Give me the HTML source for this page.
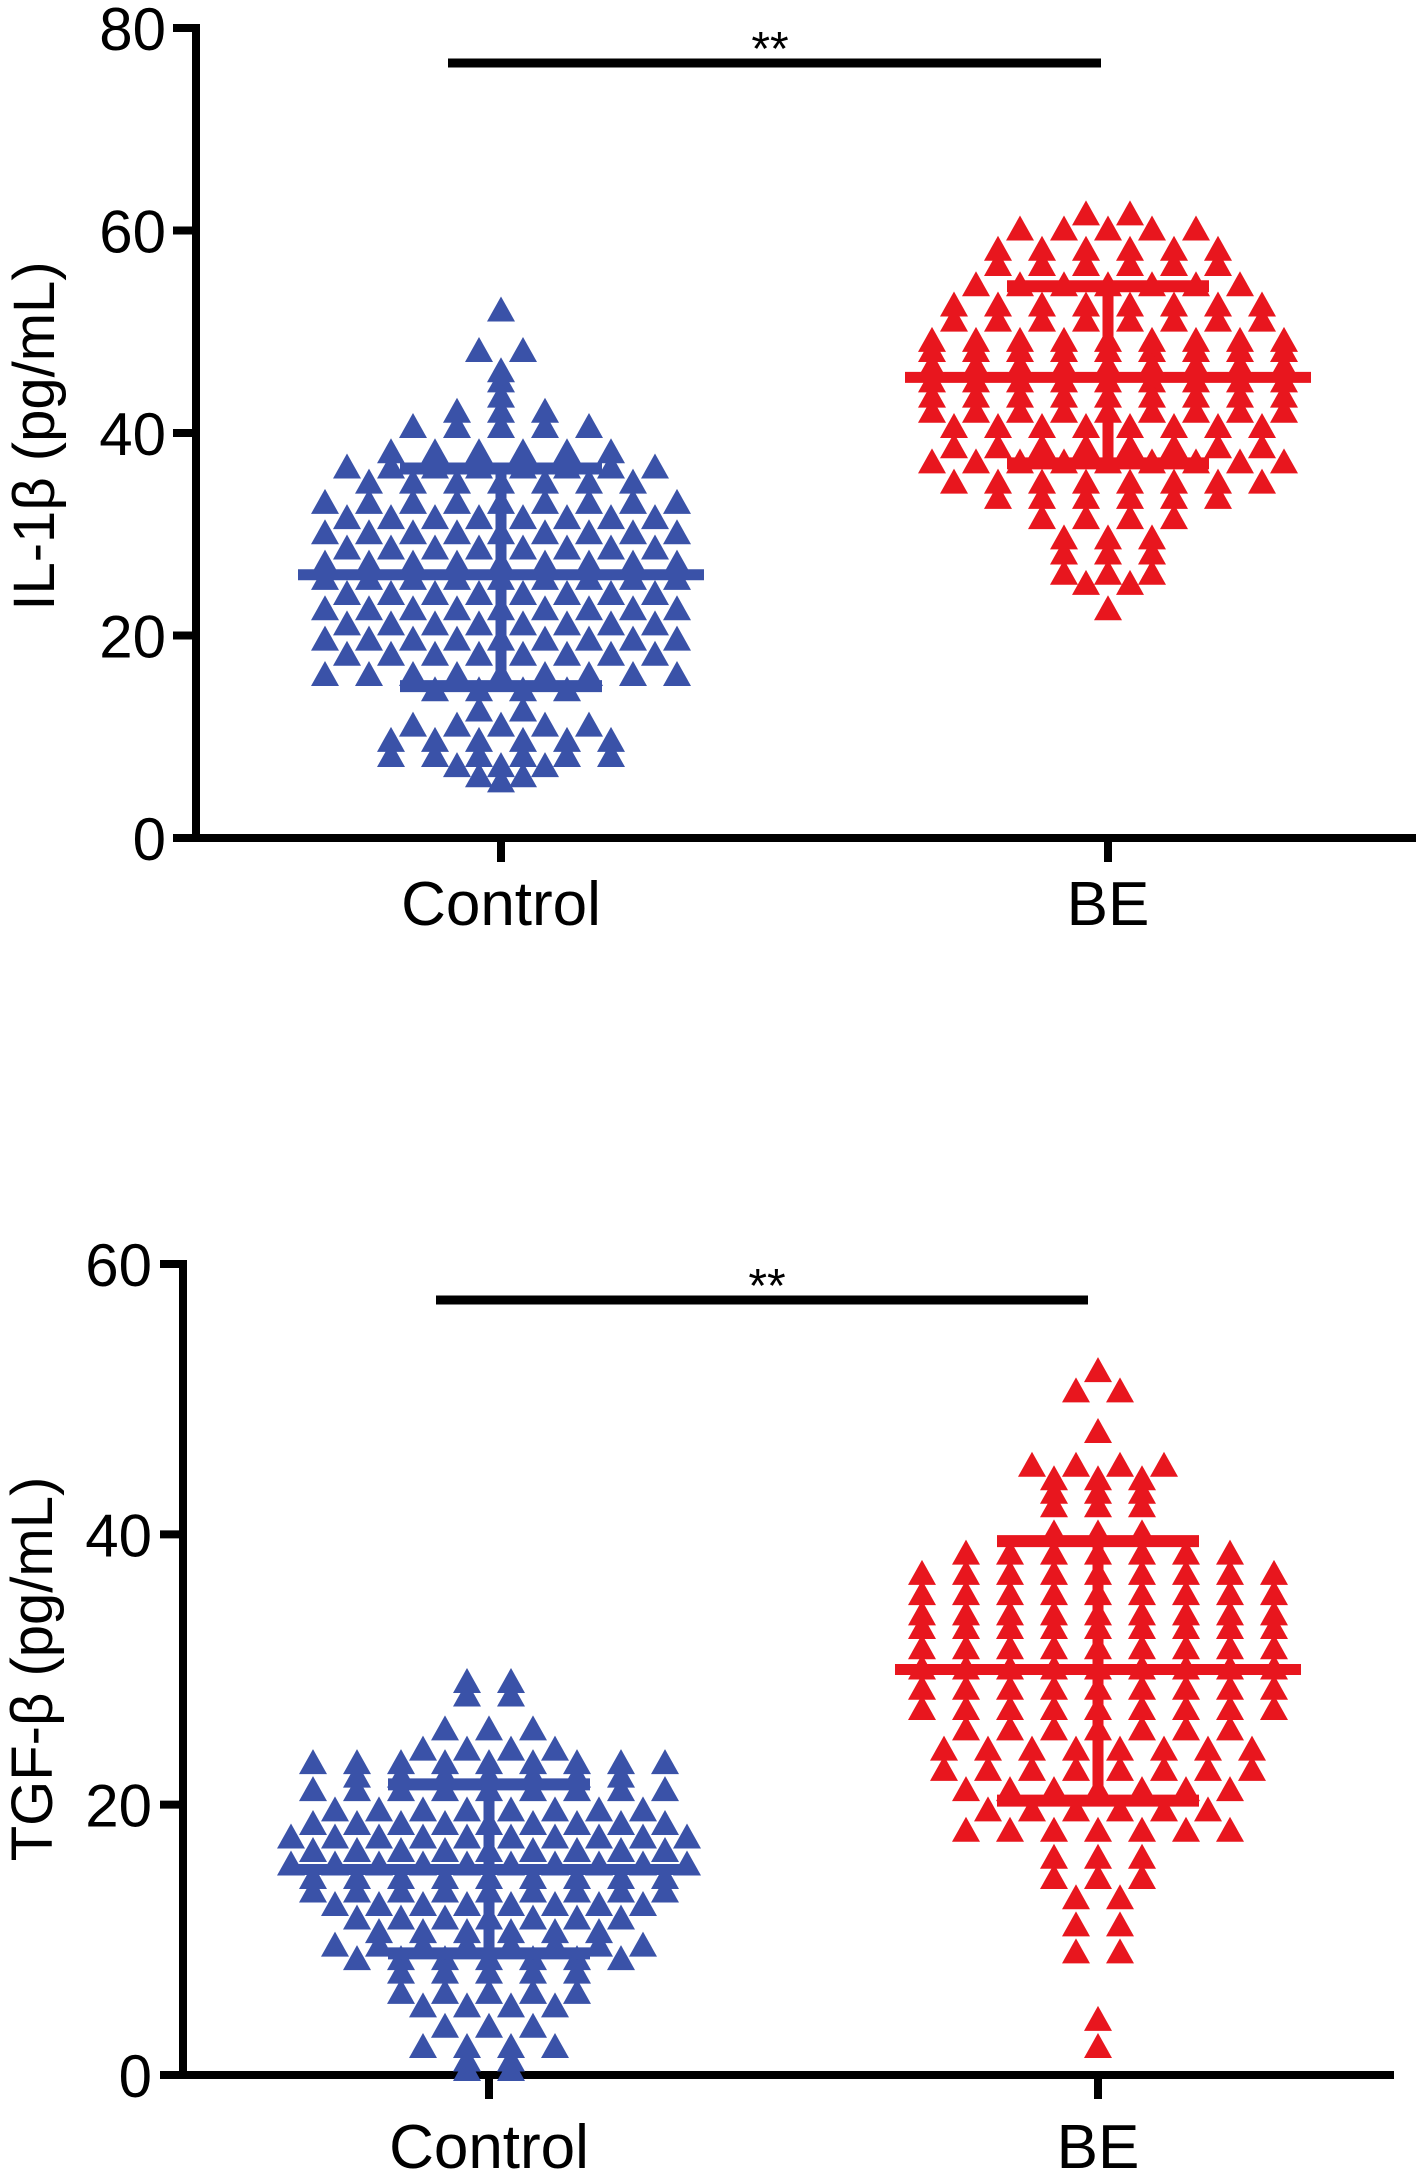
<!DOCTYPE html>
<html><head><meta charset="utf-8">
<style>
html,body{margin:0;padding:0;background:#fff;}
svg{display:block;font-family:"Liberation Sans",Arial,sans-serif;}
</style></head>
<body>
<svg id="fig" width="1423" height="2171" viewBox="0 0 1423 2171" xmlns="http://www.w3.org/2000/svg"></svg>
<script>
// ---------- data: top chart (IL-1β) ----------
const topCategories = ["Control", "BE"];
const topYTicks = [0, 20, 40, 60, 80];
const topControlValues = [52,48,48,46,45,43.5,42,42,42,40.5,40.5,40.5,40.5,40.5,
38,38,38,38,38,38,36.5,36.5,36.5,36.5,36.5,36.5,36.5,36.5,35,35,35,35,35,35,35,
33,33,33,33,33,33,33,33,33,31.5,31.5,31.5,31.5,31.5,31.5,31.5,31.5,30,30,30,30,30,30,30,30,30,
28.5,28.5,28.5,28.5,28.5,28.5,28.5,28.5,27,27,27,27,27,27,27,27,27,25.5,25.5,25.5,25.5,25.5,25.5,25.5,25.5,25.5,
24,24,24,24,24,24,24,24,22.5,22.5,22.5,22.5,22.5,22.5,22.5,22.5,22.5,21,21,21,21,21,21,21,21,
19.5,19.5,19.5,19.5,19.5,19.5,19.5,19.5,19.5,18,18,18,18,18,18,18,18,16,16,16,16,16,16,16,16,16,
14.5,14.5,14.5,14.5,12.5,12.5,11,11,11,11,11,9.5,9.5,9.5,9.5,9.5,9.5,8,8,8,8,8,8,7,7,7,6,6,5.5];
const topBEValues = [61.5,61.5,60,60,60,60,60,58,58,58,58,58,58,56.5,56.5,56.5,56.5,56.5,56.5,
54.5,54.5,54.5,54.5,54.5,54.5,54.5,52.5,52.5,52.5,52.5,52.5,52.5,52.5,52.5,51,51,51,51,51,51,51,51,
49,49,49,49,49,49,49,49,49,48,48,48,48,48,48,48,48,48,46.5,46.5,46.5,46.5,46.5,46.5,46.5,46.5,46.5,
45,45,45,45,45,45,45,45,45,43.5,43.5,43.5,43.5,43.5,43.5,43.5,43.5,43.5,42,42,42,42,42,42,42,42,42,
40.5,40.5,40.5,40.5,40.5,40.5,40.5,40.5,38.5,38.5,38.5,38.5,38.5,38.5,38.5,38.5,37,37,37,37,37,37,37,37,37,
35,35,35,35,35,35,35,35,33.5,33.5,33.5,33.5,33.5,33.5,31.5,31.5,31.5,31.5,29.5,29.5,29.5,28,28,28,26,26,26,25,25,22.5];
const topMeans = [26, 45.5];
const topSDHigh = [36.5, 54.5];
const topSDLow = [15, 37];

// ---------- data: bottom chart (TGF-β) ----------
const botCategories = ["Control", "BE"];
const botYTicks = [0, 20, 40, 60];
const botControlValues = [29,29,28,28,25.5,25.5,25.5,24,24,24,24,23,23,23,23,23,23,23,23,23,
22,22,22,22,22,22,22,21,21,21,21,21,21,21,21,21,19.5,19.5,19.5,19.5,19.5,19.5,19.5,19.5,
18.5,18.5,18.5,18.5,18.5,18.5,18.5,18.5,18.5,17.5,17.5,17.5,17.5,17.5,17.5,17.5,17.5,17.5,17.5,
16.5,16.5,16.5,16.5,16.5,16.5,16.5,16.5,16.5,15.5,15.5,15.5,15.5,15.5,15.5,15.5,15.5,15.5,15.5,
14.5,14.5,14.5,14.5,14.5,14.5,14.5,14.5,14.5,13.5,13.5,13.5,13.5,13.5,13.5,13.5,13.5,13.5,
12.5,12.5,12.5,12.5,12.5,12.5,12.5,12.5,11.5,11.5,11.5,11.5,11.5,11.5,11.5,10.5,10.5,10.5,10.5,10.5,10.5,
9.5,9.5,9.5,9.5,9.5,9.5,9.5,9.5,8.5,8.5,8.5,8.5,8.5,8.5,8.5,7.5,7.5,7.5,7.5,7.5,
6,6,6,6,6,5,5,5,5,3.5,3.5,3.5,2,2,2,2,1,1,0.3,0.3];
const botBEValues = [52,50.5,50.5,47.5,45,45,45,45,44,44,44,43,43,43,42,42,42,40,40,40,
38.5,38.5,38.5,38.5,38.5,38.5,38.5,37,37,37,37,37,37,37,37,37,35.5,35.5,35.5,35.5,35.5,35.5,35.5,35.5,35.5,
34,34,34,34,34,34,34,34,34,33,33,33,33,33,33,33,33,33,31.5,31.5,31.5,31.5,31.5,31.5,31.5,31.5,31.5,
30,30,30,30,30,30,30,30,30,28.5,28.5,28.5,28.5,28.5,28.5,28.5,28.5,28.5,27,27,27,27,27,27,27,27,27,
25.5,25.5,25.5,25.5,25.5,25.5,25.5,24,24,24,24,24,24,24,24,22.5,22.5,22.5,22.5,22.5,22.5,22.5,22.5,
21,21,21,21,21,21,21,19.5,19.5,19.5,19.5,19.5,19.5,18,18,18,18,18,18,18,
16,16,16,14.5,14.5,14.5,13,13,11,11,9,9,4,2];
const botMeans = [15.2, 30];
const botSDHigh = [21.5, 39.5];
const botSDLow = [9, 20.3];

const NS = "http://www.w3.org/2000/svg";
const svg = document.getElementById('fig');
const BLUE = "#3a52a8", RED = "#e8161e";

function mk(tag, attrs, parent) {
  const e = document.createElementNS(NS, tag);
  for (const k in attrs) e.setAttribute(k, attrs[k]);
  (parent || svg).appendChild(e);
  return e;
}

function drawChart(cfg) {
  const g = mk('g', {});
  
  
  const yMax = cfg.ticks[cfg.ticks.length - 1];
  const yScale = v => cfg.y0 + (cfg.yTop - cfg.y0) * v / yMax;
  const xScale = i => cfg.catX[i];

  const ya = mk('line', {x1: cfg.axX, y1: cfg.yTop - 4, x2: cfg.axX, y2: cfg.y0 + 4, stroke: '#000', 'stroke-width': 8}, g);
  
  
  const xa = mk('line', {x1: cfg.axX - 22, y1: cfg.y0, x2: cfg.xEnd, y2: cfg.y0, stroke: '#000', 'stroke-width': 8}, g);
  
  

  cfg.ticks.forEach(t => {
    const y = yScale(t);
    const tk = mk('line', {x1: cfg.axX - 23, y1: y, x2: cfg.axX, y2: y, stroke: '#000', 'stroke-width': 8}, g);
    
    
    const tx = mk('text', {x: cfg.labelRight, y: y + 22, 'text-anchor': 'end', 'font-size': 60, fill: '#000'}, g);
    tx.textContent = t;
    
    
  });

  cfg.cats.forEach((c, i) => {
    const x = xScale(i);
    const tk = mk('line', {x1: x, y1: cfg.y0, x2: x, y2: cfg.y0 + 24, stroke: '#000', 'stroke-width': 8}, g);
    
    
    const tx = mk('text', {x: x, y: cfg.catBase, 'text-anchor': 'middle', 'font-size': 62, fill: '#000'}, g);
    tx.textContent = c;
    
    
  });

  const title = mk('text', {transform: `translate(${cfg.titleX},${cfg.titleY}) rotate(-90)`, 'text-anchor': 'middle', 'font-size': 58, fill: '#000'}, g);
  title.textContent = cfg.title;
  
  

  const spacing = 44, tw = 28, th = 25;
  [cfg.ctrl, cfg.be].forEach((vals, gi) => {
    const color = gi === 0 ? BLUE : RED;
    const rows = {};
    vals.forEach(v => { (rows[v] = rows[v] || []).push(v); });
    Object.keys(rows).forEach(k => {
      const arr = rows[k];
      const n = arr.length;
      arr.forEach((v, j) => {
        const cx = xScale(gi) + (j - (n - 1) / 2) * spacing;
        const cy = yScale(v);
        const p = mk('polygon', {points: `${cx},${cy - th * 0.6} ${cx - tw / 2},${cy + th * 0.4} ${cx + tw / 2},${cy + th * 0.4}`, fill: color}, g);
        
        
      });
    });
  });

  [0, 1].forEach(gi => {
    const color = gi === 0 ? BLUE : RED;
    const x = xScale(gi);
    const v = mk('line', {x1: x, y1: yScale(cfg.sdHi[gi]), x2: x, y2: yScale(cfg.sdLo[gi]), stroke: color, 'stroke-width': 11}, g);
    
    
    const m = mk('line', {x1: x - 203, y1: yScale(cfg.means[gi]), x2: x + 203, y2: yScale(cfg.means[gi]), stroke: color, 'stroke-width': 11}, g);
    
    
    [cfg.sdHi[gi], cfg.sdLo[gi]].forEach(s => {
      const c = mk('line', {x1: x - 101, y1: yScale(s), x2: x + 101, y2: yScale(s), stroke: color, 'stroke-width': 12}, g);
      
      
    });
  });

  const sl = mk('line', {x1: cfg.sig[0], y1: cfg.sig[2], x2: cfg.sig[1], y2: cfg.sig[2], stroke: '#000', 'stroke-width': 9}, g);
  
  
  const st = mk('text', {x: cfg.sigTextX, y: cfg.sig[2] + 2, 'text-anchor': 'middle', 'font-size': 48, fill: '#000'}, g);
  st.textContent = '**';
  
  
}

drawChart({name: 'il1b-chart', ticks: topYTicks, cats: topCategories, ctrl: topControlValues, be: topBEValues,
  means: topMeans, sdHi: topSDHigh, sdLo: topSDLow,
  axX: 196, y0: 838, yTop: 28, xEnd: 1416, catX: [501, 1108], labelRight: 166, catBase: 925,
  title: 'IL-1β (pg/mL)', titleX: 54, titleY: 436, sig: [448, 1101, 63], sigTextX: 770});

drawChart({name: 'tgfb-chart', ticks: botYTicks, cats: botCategories, ctrl: botControlValues, be: botBEValues,
  means: botMeans, sdHi: botSDHigh, sdLo: botSDLow,
  axX: 183, y0: 2075, yTop: 1264, xEnd: 1394, catX: [489, 1098], labelRight: 152, catBase: 2168,
  title: 'TGF-β (pg/mL)', titleX: 52, titleY: 1669, sig: [436, 1088, 1300], sigTextX: 767});
</script>
</body></html>
